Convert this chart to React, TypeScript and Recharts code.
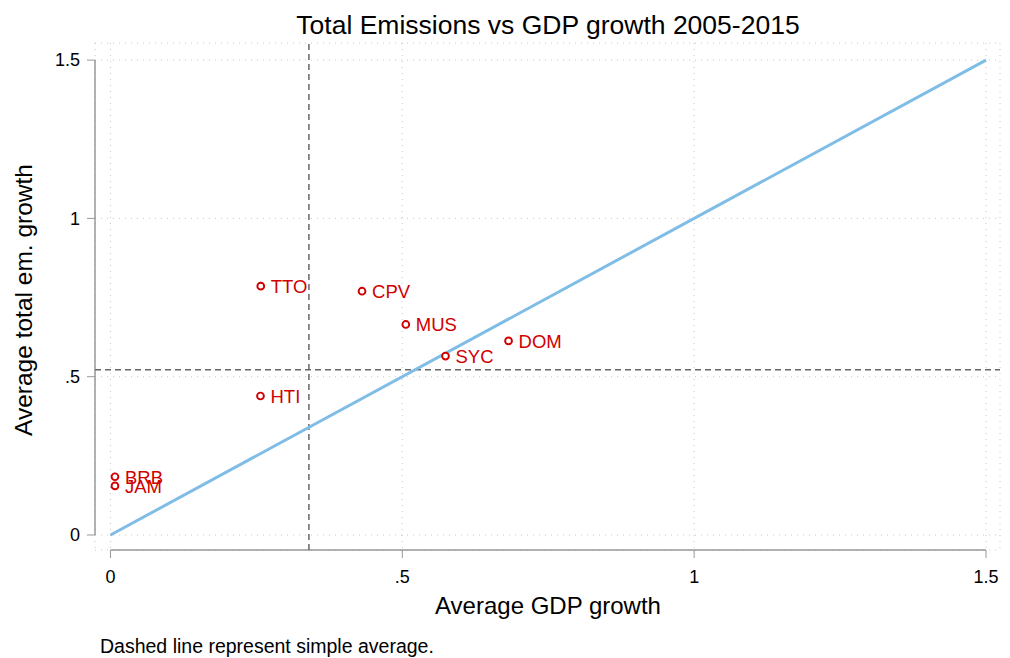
import React from "react"
import { ScatterChart, Scatter, XAxis, YAxis, CartesianGrid, ReferenceLine } from "recharts"

const countries = ["TTO", "CPV", "MUS", "SYC", "DOM", "HTI", "BRB", "JAM"]
const gdpGrowth = [0.2575, 0.431, 0.506, 0.574, 0.682, 0.257, 0.0077, 0.0077]
const emGrowth = [0.786, 0.77, 0.665, 0.565, 0.613, 0.439, 0.184, 0.155]

const avgGdp = 0.34
const avgEm = 0.522

const ticks = [0, 0.5, 1, 1.5]
const tickLabels = ["0", ".5", "1", "1.5"]
const diagonal = [
  { x: 0, y: 0 },
  { x: 1.5, y: 1.5 },
]

const points = countries.map((name, i) => ({ name, x: gdpGrowth[i], y: emGrowth[i] }))

const xDomain: [number, number] = [-0.0265, 1.524]
const yDomain: [number, number] = [-0.0474, 1.554]

const FONT = "'Liberation Sans', Arial, Helvetica, sans-serif"
const RED = "#d00000"

const fmt = (v: number) => tickLabels[ticks.indexOf(v)] ?? String(v)

function CountryDot(props: any) {
  const { cx, cy, payload } = props
  return (
    <g>
      <circle cx={cx} cy={cy} r={3.4} fill="#fff" stroke={RED} strokeWidth={1.9} />
      <text x={cx + 10} y={cy + 7} fill={RED} fontSize={18.5} fontFamily={FONT}>
        {payload.name}
      </text>
    </g>
  )
}

export default function App() {
  return (
    <div style={{ position: "absolute", left: 0, top: 0, width: 1010, height: 658, background: "#fff" }}>
      <ScatterChart width={1010} height={658} margin={{ top: 43, right: 10, bottom: 58, left: 0 }}>
        <CartesianGrid stroke="#c8c8c8" strokeDasharray="1 5" />
        <XAxis
          type="number"
          dataKey="x"
          domain={xDomain}
          ticks={ticks}
          tickFormatter={fmt}
          axisLine={false}
          tickSize={8}
          tickMargin={12}
          tickLine={{ stroke: "#999" }}
          tick={{ fill: "#000", fontSize: 18, fontFamily: FONT }}
          height={50}
          allowDataOverflow
        />
        <YAxis
          type="number"
          dataKey="y"
          domain={yDomain}
          ticks={ticks}
          tickFormatter={fmt}
          axisLine={false}
          tickSize={8}
          tickMargin={7}
          tickLine={{ stroke: "#999" }}
          tick={{ fill: "#000", fontSize: 18, fontFamily: FONT }}
          width={95}
          allowDataOverflow
        />
        <ReferenceLine segment={[{ x: xDomain[0], y: 0 }, { x: xDomain[0], y: 1.5 }]} stroke="#999" strokeWidth={1.5} ifOverflow="visible" />
        <ReferenceLine segment={[{ x: 0, y: yDomain[0] }, { x: 1.5, y: yDomain[0] }]} stroke="#999" strokeWidth={1.5} ifOverflow="visible" />
        <ReferenceLine x={avgGdp} stroke="#666" strokeWidth={1.5} strokeDasharray="6 4" />
        <ReferenceLine y={avgEm} stroke="#666" strokeWidth={1.5} strokeDasharray="6 4" />
        <Scatter data={diagonal} line={{ stroke: "#80bde6", strokeWidth: 3 }} shape={() => <g />} isAnimationActive={false} />
        <Scatter data={points} shape={CountryDot} isAnimationActive={false} />
      </ScatterChart>
      <svg width={1010} height={658} style={{ position: "absolute", left: 0, top: 0, pointerEvents: "none" }} fontFamily={FONT}>
        <text x={548} y={34} textAnchor="middle" fontSize={26.5} fill="#000">
          Total Emissions vs GDP growth 2005-2015
        </text>
        <text x={548} y={614} textAnchor="middle" fontSize={24} fill="#000">
          Average GDP growth
        </text>
        <text x={32} y={300} textAnchor="middle" fontSize={24.5} fill="#000" transform="rotate(-90 32 300)">
          Average total em. growth
        </text>
        <text x={100} y={653} fontSize={19.5} fill="#000">
          Dashed line represent simple average.
        </text>
      </svg>
    </div>
  )
}
